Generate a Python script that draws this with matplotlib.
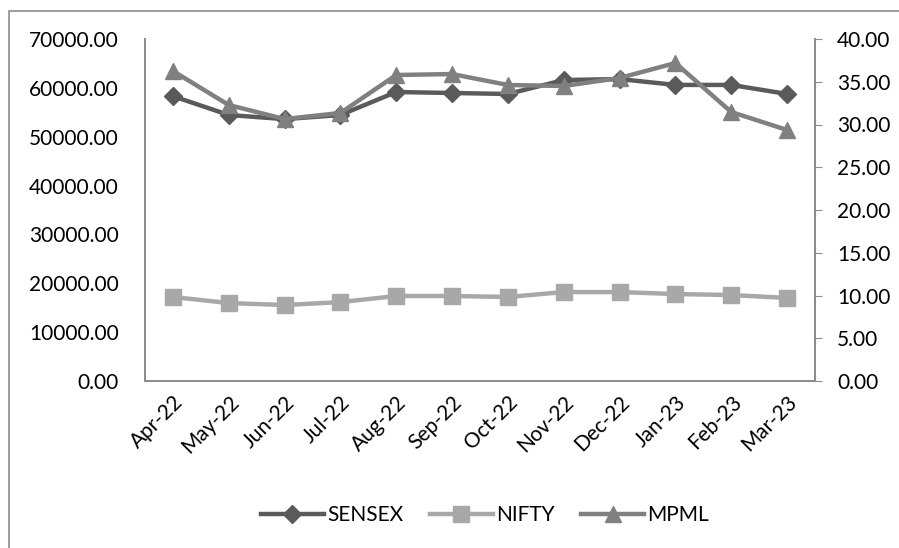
import matplotlib
matplotlib.use("Agg")
import matplotlib.pyplot as plt
from matplotlib.patches import Rectangle
from matplotlib.ticker import FuncFormatter, MultipleLocator

months = ["Apr-22", "May-22", "Jun-22", "Jul-22", "Aug-22", "Sep-22",
          "Oct-22", "Nov-22", "Dec-22", "Jan-23", "Feb-23", "Mar-23"]
sensex = [58300, 54450, 53600, 54450, 59150, 58950, 58750, 61600, 61800, 60600, 60600, 58750]
nifty = [17200, 15950, 15550, 16150, 17400, 17400, 17200, 18200, 18200, 17800, 17600, 17000]
mpml = [36.26, 32.28, 30.64, 31.35, 35.79, 35.90, 34.62, 34.50, 35.44, 37.19, 31.46, 29.36]

plt.rcParams['font.family'] = ['Lato', 'DejaVu Sans']
FS = 15

fig = plt.figure(figsize=(8.99, 5.48), dpi=100)
W, H = 899, 548
ax = fig.add_axes([145 / W, 1 - 381 / H, (815 - 145) / W, (381 - 39) / H])
ax2 = ax.twinx()

x = list(range(len(months)))
c_s, c_n, c_m = "#5a5a5a", "#a8a8a8", "#808080"
l1, = ax.plot(x, sensex, color=c_s, lw=3.2, marker="D", ms=9, label="SENSEX", zorder=3)
l2, = ax.plot(x, nifty, color=c_n, lw=3.2, marker="s", ms=11, label="NIFTY", zorder=3)
l3, = ax2.plot(x, mpml, color=c_m, lw=3.2, marker="^", ms=12, label="MPML", zorder=3)

ax.set_xlim(-0.5, len(months) - 0.5)
ax.set_ylim(0, 70000)
ax2.set_ylim(0, 40)
ax.yaxis.set_major_locator(MultipleLocator(10000))
ax2.yaxis.set_major_locator(MultipleLocator(5))
ax.yaxis.set_major_formatter(FuncFormatter(lambda v, p: f"{v:.2f}"))
ax2.yaxis.set_major_formatter(FuncFormatter(lambda v, p: f"{v:.2f}"))

ax.set_xticks(x)
ax.set_xticklabels(months, rotation=45, ha="right", rotation_mode="anchor", fontsize=FS)
ax.tick_params(axis="x", length=0, pad=8)
ax.tick_params(axis="y", length=0, labelsize=FS, pad=19)
ax2.tick_params(axis="y", length=5, color="#8c8c8c", labelsize=FS, pad=11)

for a in (ax, ax2):
    a.spines["top"].set_visible(False)
    for s in ("left", "bottom", "right"):
        a.spines[s].set_color("#8c8c8c")
        a.spines[s].set_linewidth(1.3)

fig.legend(handles=[l1, l2, l3], loc="center", bbox_to_anchor=(485 / W, 1 - 515 / H),
           ncol=3, frameon=False, fontsize=FS, handlelength=3.0, columnspacing=1.3,
           handletextpad=0.15)

fig.patches.append(Rectangle((9 / W, -0.01), 1.0, 1 - 11 / H + 0.01, transform=fig.transFigure,
                             fill=False, edgecolor="#8c8c8c", lw=1.2))

fig.savefig("out.png", dpi=100)
